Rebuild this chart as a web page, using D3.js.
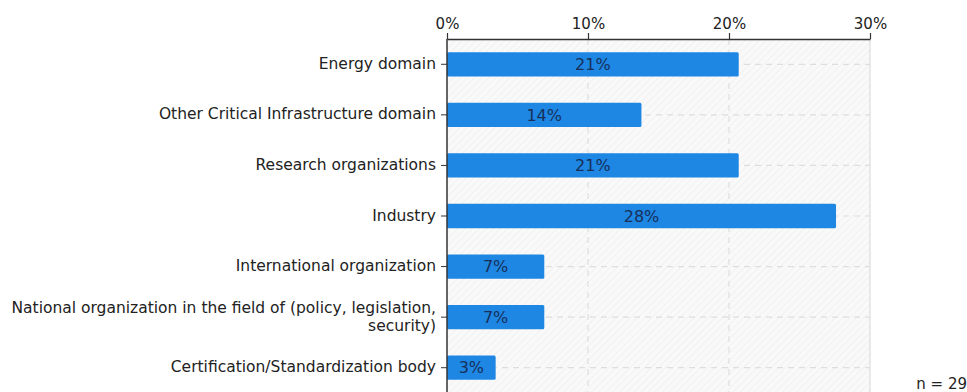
<!DOCTYPE html>
<html>
<head>
<meta charset="utf-8">
<script src="https://cdn.jsdelivr.net/npm/d3@7"></script>
<style>
  html, body { margin: 0; padding: 0; background: #fff; }
  svg { display: block; }
  text { font-family: "DejaVu Sans", Verdana, sans-serif; }
</style>
</head>
<body>
<svg id="chart" width="967" height="392"></svg>
<script>
// Share of respondents per organisation type (n = 29)
const categories = [
  "Energy domain",
  "Other Critical Infrastructure domain",
  "Research organizations",
  "Industry",
  "International organization",
  "National organization in the field of (policy, legislation,\nsecurity)",
  "Certification/Standardization body"
];
const values = [20.69, 13.79, 20.69, 27.59, 6.9, 6.9, 3.45];
const valueLabels = ["21%", "14%", "21%", "28%", "7%", "7%", "3%"];
const xTicks = [0, 10, 20, 30];
const sampleNote = "n = 29";

const svg = d3.select("#chart");
const plotLeft = 447, plotRight = 870, plotTop = 39, plotBottom = 393;

const x = d3.scaleLinear().domain([0, 30]).range([plotLeft, plotRight]);
const y = d3.scaleBand().domain(categories).range([plotTop, plotBottom]).paddingInner(0.52).paddingOuter(0.26);

// hatched plot background
const defs = svg.append("defs");
const pat = defs.append("pattern")
  .attr("id", "hatch").attr("patternUnits", "userSpaceOnUse")
  .attr("width", 5).attr("height", 5)
  .attr("patternTransform", "rotate(45)");
pat.append("rect").attr("width", 5).attr("height", 5).attr("fill", "#f9f9f9");
pat.append("line").attr("x1", 0).attr("y1", 0).attr("x2", 0).attr("y2", 5)
  .attr("stroke", "#ececec").attr("stroke-width", 1.2);

svg.append("rect")
  .attr("x", plotLeft).attr("y", plotTop)
  .attr("width", plotRight - plotLeft).attr("height", 392 - plotTop)
  .attr("fill", "url(#hatch)");

// right border of plot area
svg.append("line")
  .attr("x1", plotRight).attr("x2", plotRight).attr("y1", plotTop).attr("y2", 392)
  .attr("stroke", "#dcdcdc").attr("stroke-width", 1.2);

// vertical dashed gridlines
svg.append("g").selectAll("line")
  .data(xTicks.filter(d => d > 0 && d < 30))
  .join("line")
  .attr("x1", d => x(d)).attr("x2", d => x(d))
  .attr("y1", plotTop).attr("y2", 392)
  .attr("stroke", "#dedede").attr("stroke-width", 1.2)
  .attr("stroke-dasharray", "6,5");

// horizontal dashed gridlines at category centres
svg.append("g").selectAll("line")
  .data(categories)
  .join("line")
  .attr("x1", plotLeft).attr("x2", plotRight)
  .attr("y1", d => y(d) + y.bandwidth() / 2)
  .attr("y2", d => y(d) + y.bandwidth() / 2)
  .attr("stroke", "#dedede").attr("stroke-width", 1.2)
  .attr("stroke-dasharray", "6,5");

// bars
svg.append("g").selectAll("rect")
  .data(categories)
  .join("rect")
  .attr("x", x(0))
  .attr("y", d => y(d))
  .attr("width", (d, i) => x(values[i]) - x(0))
  .attr("height", y.bandwidth())
  .attr("rx", 1.5)
  .attr("fill", "#1e86e3");

// value labels
svg.append("g").selectAll("text")
  .data(categories)
  .join("text")
  .attr("x", (d, i) => (x(0) + x(values[i])) / 2)
  .attr("y", d => y(d) + y.bandwidth() / 2)
  .attr("dy", "0.36em")
  .attr("text-anchor", "middle")
  .attr("font-size", 16)
  .attr("fill", "#17305a")
  .text((d, i) => valueLabels[i]);

// top axis
const xAxis = svg.append("g")
  .attr("transform", `translate(0,${plotTop})`)
  .call(d3.axisTop(x).tickValues(xTicks).tickFormat(d => d + "%").tickSize(6).tickSizeOuter(0));
xAxis.select(".domain").attr("stroke", "#333").attr("stroke-width", 1.5);
xAxis.selectAll(".tick line").attr("stroke", "#333").attr("stroke-width", 1.2);
xAxis.selectAll(".tick text")
  .attr("font-size", 15).attr("fill", "#222").attr("font-family", "DejaVu Sans, Verdana, sans-serif")
  .attr("dy", "-0.05em");

// left axis
const yAxis = svg.append("g")
  .attr("transform", `translate(${plotLeft},0)`)
  .call(d3.axisLeft(y).tickSize(6).tickSizeOuter(0).tickFormat(""));
yAxis.select(".domain").attr("stroke", "#333").attr("stroke-width", 1.5)
  .attr("d", `M0,${plotTop}V392`);
yAxis.selectAll(".tick line").attr("stroke", "#333");

// category labels (multi-line where needed)
const labels = svg.append("g").selectAll("text")
  .data(categories)
  .join("text")
  .attr("text-anchor", "end")
  .attr("font-size", 15.5)
  .attr("fill", "#222")
  .attr("x", plotLeft - 11);
labels.each(function (d) {
  const lines = d.split("\n");
  const cy = y(d) + y.bandwidth() / 2 - 1;
  const lh = 18;
  const t = d3.select(this);
  lines.forEach((ln, i) => {
    t.append("tspan")
      .attr("x", plotLeft - 11)
      .attr("y", cy + (i - (lines.length - 1) / 2) * lh)
      .attr("dy", "0.36em")
      .text(ln);
  });
});

// sample size note
svg.append("text")
  .attr("x", 967).attr("y", 389)
  .attr("text-anchor", "end")
  .attr("font-size", 15)
  .attr("fill", "#222")
  .text(sampleNote);
</script>
</body>
</html>
